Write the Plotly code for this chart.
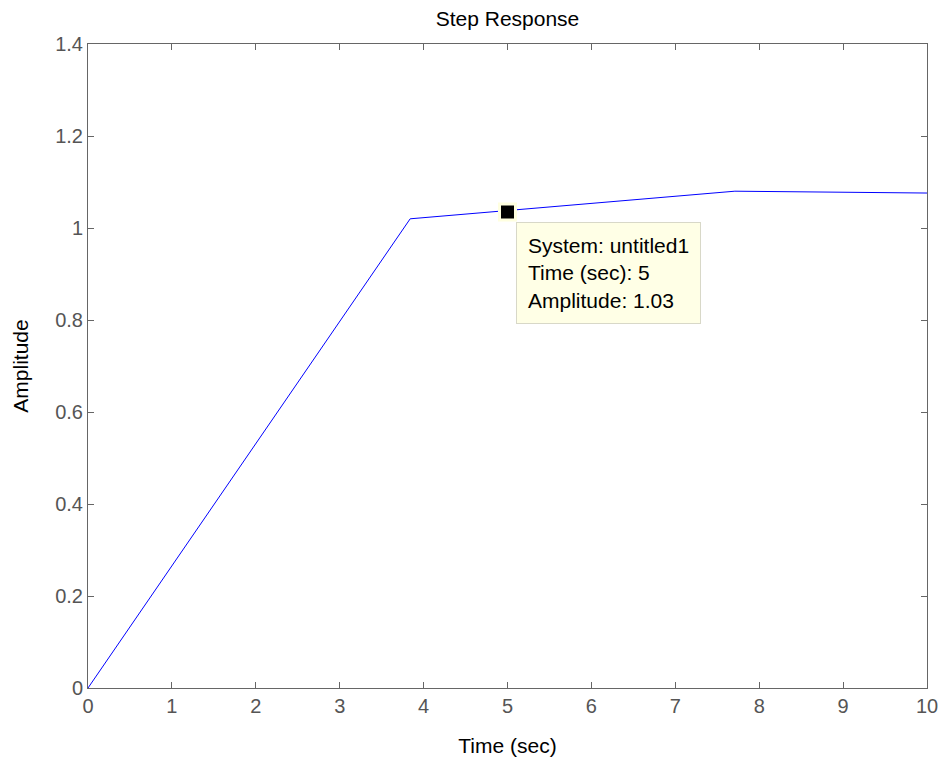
import plotly.graph_objects as go

time_sec = [0, 3.84, 7.71, 10]
amplitude = [0, 1.02, 1.08, 1.076]
tip_time = 5
tip_amp = 1.035
tip_label = "System: untitled1<br>Time (sec): 5<br>Amplitude: 1.03"
x_ticks = list(range(0, 11))
y_ticks = [0, 0.2, 0.4, 0.6, 0.8, 1, 1.2, 1.4]
y_tick_text = ["0", "0.2", "0.4", "0.6", "0.8", "1", "1.2", "1.4"]

FONT = "Liberation Sans, Arial"
W, H = 931, 749

fig = go.Figure()
fig.add_trace(go.Scatter(x=time_sec, y=amplitude, mode="lines",
                         line=dict(color="#0000FF", width=1), showlegend=False,
                         hoverinfo="skip"))
fig.add_trace(go.Scatter(x=[tip_time], y=[tip_amp], mode="markers",
                         marker=dict(symbol="square", size=16, color="black",
                                     line=dict(color="#FFFFE0", width=3)),
                         showlegend=False, hoverinfo="skip"))

fig.add_annotation(x=tip_time, y=tip_amp, xref="x", yref="y", text=tip_label,
                   showarrow=False, xanchor="left", yanchor="top", align="left",
                   xshift=8, yshift=-10, bgcolor="#FFFFE6", bordercolor="#D8D8C8",
                   borderwidth=1, borderpad=11,
                   font=dict(family=FONT, size=21, color="black"))

axis_common = dict(showgrid=False, zeroline=False, showline=True, linecolor="#666666",
                   linewidth=1, mirror="ticks", ticks="inside", ticklen=6,
                   tickcolor="#666666", automargin=False,
                   tickfont=dict(family=FONT, size=20, color="#555555"))

fig.update_xaxes(range=[0, 10], tickvals=x_ticks,
                 title=dict(text="Time (sec)", font=dict(family=FONT, size=21, color="black"), standoff=22),
                 **axis_common)
fig.update_yaxes(range=[0, 1.4], tickvals=y_ticks, ticktext=y_tick_text,
                 title=dict(text="Amplitude", font=dict(family=FONT, size=21, color="black"), standoff=20),
                 **axis_common)

fig.update_layout(
    width=W, height=H,
    margin=dict(l=80, r=12, t=36, b=69),
    plot_bgcolor="white", paper_bgcolor="white",
    title=dict(text="Step Response", x=0.5, xanchor="center", xref="paper",
               yref="container", y=(H - 11) / H, yanchor="middle",
               font=dict(family=FONT, size=21, color="black")),
)

fig.write_html("out.html", config={"displayModeBar": False})
